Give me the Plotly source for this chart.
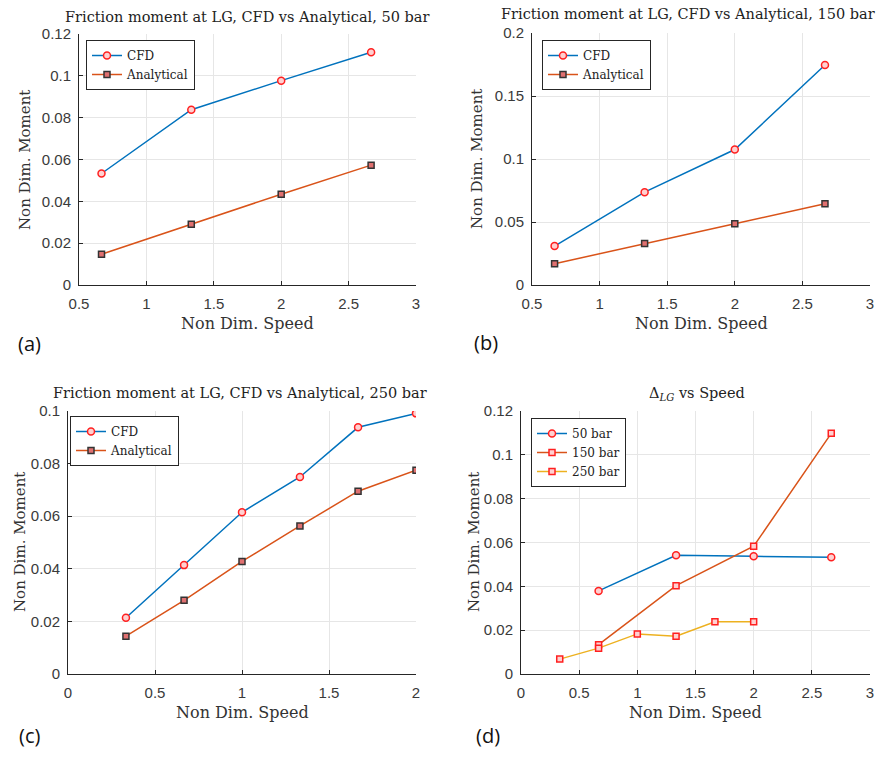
import plotly.graph_objects as go

# ---------------- data ----------------
speed_a = [0.667, 1.333, 2.0, 2.667]
cfd_50 = [0.0533, 0.0838, 0.0977, 0.1113]
ana_50 = [0.0147, 0.0290, 0.0434, 0.0573]

speed_b = [0.667, 1.333, 2.0, 2.667]
cfd_150 = [0.0309, 0.0737, 0.1075, 0.1746]
ana_150 = [0.0169, 0.0330, 0.0486, 0.0645]

speed_c = [0.333, 0.667, 1.0, 1.333, 1.667, 2.0]
cfd_250 = [0.0214, 0.0414, 0.0615, 0.0749, 0.0938, 0.0991]
ana_250 = [0.0144, 0.0280, 0.0428, 0.0563, 0.0695, 0.0775]

speed_d50 = [0.667, 1.333, 2.0, 2.667]
delta_50 = [0.0379, 0.0542, 0.0537, 0.0533]
speed_d150 = [0.667, 1.333, 2.0, 2.667]
delta_150 = [0.0134, 0.0403, 0.0583, 0.1098]
speed_d250 = [0.333, 0.667, 1.0, 1.333, 1.667, 2.0]
delta_250 = [0.0068, 0.0118, 0.0183, 0.0172, 0.0238, 0.0238]

titles = ["Friction moment at LG, CFD vs Analytical, 50 bar",
          "Friction moment at LG, CFD vs Analytical, 150 bar",
          "Friction moment at LG, CFD vs Analytical, 250 bar",
          "Δ<sub><i>LG</i></sub> vs Speed"]
panel_labels = ["(a)", "(b)", "(c)", "(d)"]
xlabel = "Non Dim. Speed"
ylabel = "Non Dim. Moment"

# ---------------- style ----------------
W, H = 883, 762
BLUE = "#0072BD"
ORANGE = "#D95319"
YELLOW = "#EDB120"
RED = "#FF2020"
SERIF = "DejaVu Serif"
SANS = "Liberation Sans"

def px_x(p):
    return p / W

def px_y(p):
    return 1 - p / H

fig = go.Figure()

cfd_marker = dict(symbol="circle", size=7, color="#ffd0d0", line=dict(color=RED, width=1.5))
ana_marker = dict(symbol="square", size=6, color="#e07070", line=dict(color="#333333", width=1.5))
sq_marker = dict(symbol="square", size=6, color="#ffd0d0", line=dict(color=RED, width=1.5))

def add(x, y, name, color, marker, xa, ya, legend):
    fig.add_trace(go.Scatter(x=x, y=y, name=name, mode="lines+markers",
                             line=dict(color=color, width=1.5), marker=marker,
                             xaxis=xa, yaxis=ya, legend=legend))

add(speed_a, cfd_50, "CFD", BLUE, cfd_marker, "x", "y", "legend")
add(speed_a, ana_50, "Analytical", ORANGE, ana_marker, "x", "y", "legend")
add(speed_b, cfd_150, "CFD", BLUE, cfd_marker, "x2", "y2", "legend2")
add(speed_b, ana_150, "Analytical", ORANGE, ana_marker, "x2", "y2", "legend2")
add(speed_c, cfd_250, "CFD", BLUE, cfd_marker, "x3", "y3", "legend3")
add(speed_c, ana_250, "Analytical", ORANGE, ana_marker, "x3", "y3", "legend3")
add(speed_d50, delta_50, "50 bar", BLUE, cfd_marker, "x4", "y4", "legend4")
add(speed_d150, delta_150, "150 bar", ORANGE, sq_marker, "x4", "y4", "legend4")
add(speed_d250, delta_250, "250 bar", YELLOW, sq_marker, "x4", "y4", "legend4")

# plot areas in pixels: (left, right, top, bottom)
areas = [(79, 416, 34, 285), (532, 870, 33, 285), (68, 416, 411, 674), (521, 870, 411, 674)]
xranges = [[0.5, 3], [0.5, 3], [0, 2], [0, 3]]
yranges = [[0, 0.12], [0, 0.2], [0, 0.1], [0, 0.12]]
ydticks = [0.02, 0.05, 0.02, 0.02]

axis_common = dict(showgrid=True, gridcolor="#e6e6e6", gridwidth=1, zeroline=False,
                   showline=True, linecolor="#262626", linewidth=1,
                   ticks="inside", ticklen=4, tickcolor="#262626",
                   tickfont=dict(family=SANS, size=15, color="#3a3a3a"),
                   mirror=False, automargin=False)

layout = dict(width=W, height=H, margin=dict(l=0, r=0, t=0, b=0),
              paper_bgcolor="white", plot_bgcolor="white", showlegend=True)

for i, (l, r, t, b) in enumerate(areas):
    sfx = "" if i == 0 else str(i + 1)
    layout["xaxis" + sfx] = dict(axis_common, domain=[px_x(l), px_x(r)], range=xranges[i],
                                 dtick=0.5, tick0=0, anchor="y" + sfx, ticklabelstandoff=5)
    layout["yaxis" + sfx] = dict(axis_common, domain=[px_y(b), px_y(t)], range=yranges[i],
                                 dtick=ydticks[i], tick0=0, anchor="x" + sfx, ticklabelstandoff=4)

legend_pos = [(86, 40), (542, 40), (70, 416), (531, 418)]
for i, (lx, ly) in enumerate(legend_pos):
    key = "legend" if i == 0 else "legend" + str(i + 1)
    layout[key] = dict(x=px_x(lx), y=px_y(ly), xanchor="left", yanchor="top",
                       bgcolor="white", bordercolor="#262626", borderwidth=1,
                       font=dict(family=SERIF, size=12, color="#222222"),
                       tracegroupgap=0, itemwidth=30)

fig.update_layout(**layout)

ann = []
title_pos = [(247, 17), (688, 14), (240, 393), (697, 394)]
for i, (tx, ty) in enumerate(title_pos):
    ann.append(dict(text=titles[i], x=px_x(tx), y=px_y(ty), xref="paper", yref="paper",
                    showarrow=False, xanchor="center", yanchor="middle",
                    font=dict(family=SERIF, size=14.5, color="#222222")))
xl_pos = [(247, 323), (701, 323), (242, 712), (695, 712)]
for (tx, ty) in xl_pos:
    ann.append(dict(text=xlabel, x=px_x(tx), y=px_y(ty), xref="paper", yref="paper",
                    showarrow=False, xanchor="center", yanchor="middle",
                    font=dict(family=SERIF, size=16, color="#333333")))
yl_pos = [(25, 160), (477, 159), (20, 542), (474, 542)]
for (tx, ty) in yl_pos:
    ann.append(dict(text=ylabel, x=px_x(tx), y=px_y(ty), xref="paper", yref="paper",
                    showarrow=False, xanchor="center", yanchor="middle", textangle=-90,
                    font=dict(family=SERIF, size=15, color="#333333")))
pl_pos = [(30, 344), (486, 342), (30, 735), (488, 735)]
for i, (tx, ty) in enumerate(pl_pos):
    ann.append(dict(text=panel_labels[i], x=px_x(tx), y=px_y(ty), xref="paper", yref="paper",
                    showarrow=False, xanchor="center", yanchor="middle",
                    font=dict(family="Open Sans", size=20, color="#111111")))
fig.update_layout(annotations=ann)

fig.write_html("out.html")
